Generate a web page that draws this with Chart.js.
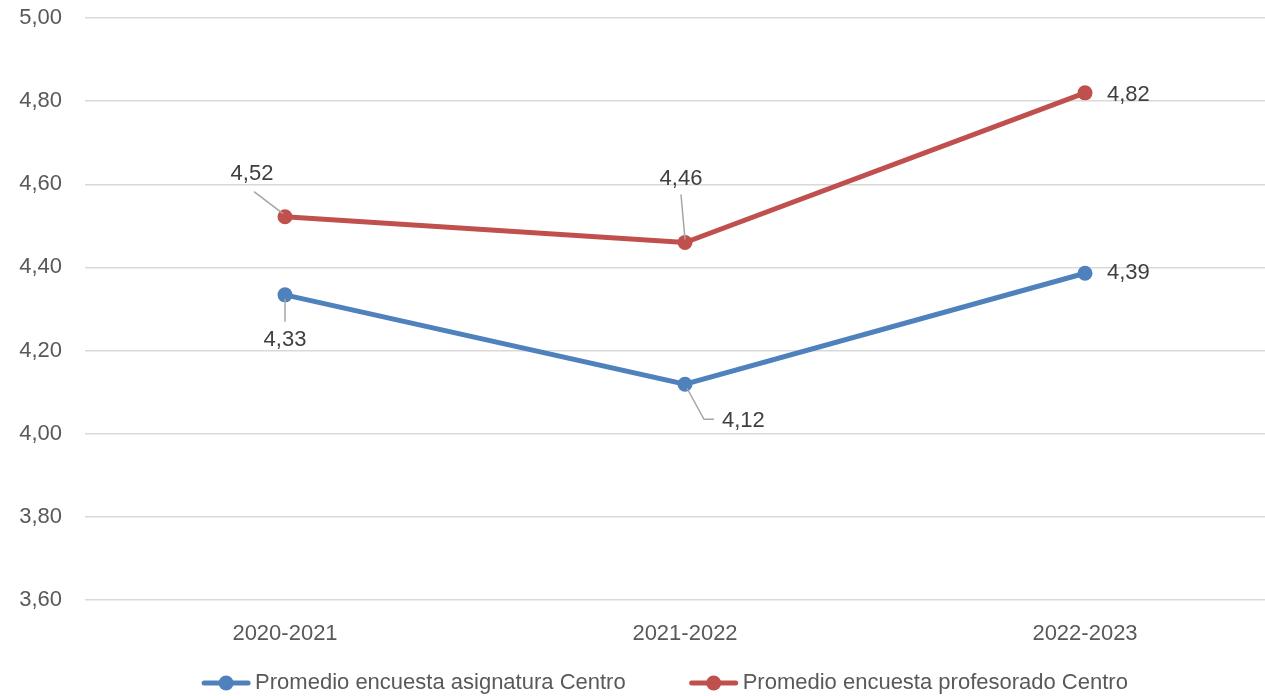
<!DOCTYPE html>
<html>
<head>
<meta charset="utf-8">
<script src="https://cdn.jsdelivr.net/npm/chart.js@4/dist/chart.umd.min.js"></script>
<style>
  html, body { margin: 0; padding: 0; background: #fff; overflow: hidden; }
  #wrap { position: relative; width: 1330px; height: 696px; }
</style>
</head>
<body>
<div id="wrap"><canvas id="c" width="1330" height="696"></canvas></div>
<script>
// ---- Data ----
const categories = ["2020-2021", "2021-2022", "2022-2023"];
const seriesNames = ["Promedio encuesta asignatura Centro", "Promedio encuesta profesorado Centro"];
const asignatura = [4.334, 4.119, 4.386];
const profesorado = [4.522, 4.460, 4.820];
const yTicks = [3.60, 3.80, 4.00, 4.20, 4.40, 4.60, 4.80, 5.00];

const fmt = v => v.toFixed(2).replace('.', ',');
const FONT = "'Liberation Sans', Arial, sans-serif";
const BLUE = '#4f81bd', RED = '#c0504d';

// label placement (style, not data): offsets from the point
const labelPlacement = [
  [ // asignatura
    { dx: 0, dy: 45, align: 'center', leader: [[0, 4], [0, 27]] },
    { dx: 37, dy: 37, align: 'left', leader: [[2, 4], [19, 35], [29, 35]] },
    { dx: 22, dy: 0, align: 'left', leader: null }
  ],
  [ // profesorado
    { dx: -33, dy: -43, align: 'center', leader: [[-2, -3], [-31, -25]] },
    { dx: -4, dy: -64, align: 'center', leader: [[0, -3], [-4, -48]] },
    { dx: 22, dy: 2, align: 'left', leader: null }
  ]
];

const labelsPlugin = {
  id: 'dataLabels',
  afterDatasetsDraw(chart) {
    const ctx = chart.ctx;
    ctx.save();
    chart.data.datasets.forEach((ds, di) => {
      const meta = chart.getDatasetMeta(di);
      meta.data.forEach((pt, i) => {
        const p = labelPlacement[di][i];
        if (p.leader) {
          ctx.strokeStyle = '#a6a6a6';
          ctx.lineWidth = 1.5;
          ctx.beginPath();
          p.leader.forEach((o, k) => {
            const x = pt.x + o[0], y = pt.y + o[1];
            if (k === 0) ctx.moveTo(x, y); else ctx.lineTo(x, y);
          });
          ctx.stroke();
        }
        ctx.fillStyle = '#404040';
        ctx.font = '22px ' + FONT;
        ctx.textAlign = p.align;
        ctx.textBaseline = 'middle';
        ctx.fillText(fmt(ds.data[i]), pt.x + p.dx, pt.y + p.dy);
      });
    });
    ctx.restore();
  }
};

const legendPlugin = {
  id: 'customLegend',
  afterDraw(chart) {
    const ctx = chart.ctx;
    ctx.save();
    ctx.font = '22px ' + FONT;
    const markW = 48, gapText = 5, gapItem = 64;
    const items = chart.data.datasets.map(ds => ({ text: ds.label, color: ds.borderColor, w: ctx.measureText(ds.label).width }));
    let total = items.reduce((s, it) => s + markW + gapText + it.w, 0) + gapItem * (items.length - 1);
    let x = chart.width / 2 - total / 2;
    const y = 683;
    items.forEach(it => {
      ctx.strokeStyle = it.color;
      ctx.lineWidth = 5;
      ctx.lineCap = 'round';
      ctx.beginPath();
      ctx.moveTo(x + 2, y); ctx.lineTo(x + markW - 2, y);
      ctx.stroke();
      ctx.fillStyle = it.color;
      ctx.beginPath();
      ctx.arc(x + markW / 2, y, 7.5, 0, Math.PI * 2);
      ctx.fill();
      ctx.fillStyle = '#595959';
      ctx.textAlign = 'left';
      ctx.textBaseline = 'middle';
      ctx.fillText(it.text, x + markW + gapText, y);
      x += markW + gapText + it.w + gapItem;
    });
    ctx.restore();
  }
};

new Chart(document.getElementById('c'), {
  type: 'line',
  data: {
    labels: categories,
    datasets: [
      { label: seriesNames[0], data: asignatura, borderColor: BLUE, backgroundColor: BLUE,
        borderWidth: 5, pointRadius: 7.5, pointHoverRadius: 7.5, pointBackgroundColor: BLUE, pointBorderWidth: 0, tension: 0 },
      { label: seriesNames[1], data: profesorado, borderColor: RED, backgroundColor: RED,
        borderWidth: 5, pointRadius: 7.5, pointHoverRadius: 7.5, pointBackgroundColor: RED, pointBorderWidth: 0, tension: 0 }
    ]
  },
  options: {
    responsive: false,
    animation: false,
    layout: { padding: { top: 18, right: 45, bottom: 46, left: 0 } },
    plugins: { legend: { display: false }, tooltip: { enabled: false } },
    scales: {
      x: {
        offset: true,
        grid: { display: false },
        border: { display: false },
        ticks: { color: '#595959', font: { family: FONT, size: 22 }, padding: 13, maxRotation: 0 },
        afterFit: s => { s.height = 50; s.paddingLeft = 0; s.paddingRight = 0; }
      },
      y: {
        min: 3.6, max: 5.0,
        afterBuildTicks: s => { s.ticks = yTicks.map(v => ({ value: v })); },
        grid: { color: '#d9d9d9', lineWidth: 1.5, drawTicks: false },
        border: { display: false },
        ticks: { color: '#595959', font: { family: FONT, size: 22 }, padding: 23, callback: v => fmt(v) },
        afterFit: s => { s.width = 85; s.paddingTop = 0; s.paddingBottom = 0; }
      }
    }
  },
  plugins: [labelsPlugin, legendPlugin]
});
</script>
</body>
</html>
